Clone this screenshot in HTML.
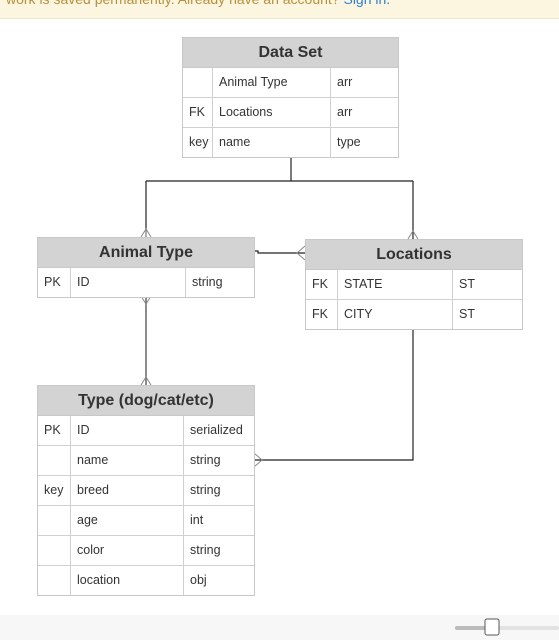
<!DOCTYPE html>
<html><head><style>
body{margin:0;width:559px;height:640px;overflow:hidden;background:#fff;font-family:"Liberation Sans",Arial,sans-serif;position:relative}
.banner{position:absolute;left:0;top:0;width:559px;height:18px;background:#fcf6e1;border-bottom:1px solid #f1e6c4;}
.banner span{position:absolute;left:6px;top:-9px;font-size:14px;color:#b8903c;white-space:nowrap}
.banner b{font-weight:normal;color:#2a7fd4}
.t{position:absolute;border:1px solid #c8c8c8;background:#fff;font-size:12.5px;color:#333}
.t .h{background:#d3d3d3;font-weight:bold;font-size:16px;text-align:center;height:29px;line-height:29px;color:#333;border-bottom:1px solid #c8c8c8}
.t .r{display:flex;height:29px;line-height:28px;border-bottom:1px solid #d0d0d0}
.t .r:last-child{border-bottom:none}
.t .r div{padding-left:6px;box-sizing:border-box;border-right:1px solid #d0d0d0}
.t .r div:last-child{border-right:none}
</style></head><body>
<div class="banner"><span>work is saved permanently. Already have an account? <b>Sign in.</b></span></div>
<svg width="559" height="640" style="position:absolute;left:0;top:0">
<g stroke="#222" stroke-width="1.2" fill="none">
<path d="M291 157V181M146 181H413M146 181V237M413 181V239"/>
<path d="M254 251H258V253H305"/>
<path d="M413 329V460H254"/>
</g>
<path d="M146 296V385" stroke="#666" stroke-width="1.5"/>
<g stroke="#888" stroke-width="1" fill="none">
<path d="M141 237L146 229L151 237M146 229V237"/>
<path d="M408 239L413 231L418 239"/>
<path d="M305 246L297 253L305 260"/>
<path d="M141 296L146 304L151 296"/>
<path d="M141 385L146 377L151 385"/>
<path d="M254 453L262 460L254 467"/>
</g>
<rect x="0" y="615" width="559" height="25" fill="#f7f7f7"/>
<rect x="455" y="626" width="104" height="4" rx="2" fill="#e2e2e2"/>
<rect x="455" y="626" width="35" height="4" rx="2" fill="#bbb"/>
<rect x="485" y="619" width="14" height="16" rx="2" fill="#fff" stroke="#555"/>
</svg>
<div class="t" style="left:182px;top:37px;width:215px">
<div class="h">Data Set</div>
<div class="r"><div style="width:30px"></div><div style="width:118px">Animal Type</div><div>arr</div></div>
<div class="r"><div style="width:30px">FK</div><div style="width:118px">Locations</div><div>arr</div></div>
<div class="r"><div style="width:30px">key</div><div style="width:118px">name</div><div>type</div></div>
</div>
<div class="t" style="left:37px;top:237px;width:216px">
<div class="h">Animal Type</div>
<div class="r"><div style="width:33px">PK</div><div style="width:115px">ID</div><div>string</div></div>
</div>
<div class="t" style="left:305px;top:239px;width:216px">
<div class="h">Locations</div>
<div class="r"><div style="width:32px">FK</div><div style="width:115px">STATE</div><div>ST</div></div>
<div class="r"><div style="width:32px">FK</div><div style="width:115px">CITY</div><div>ST</div></div>
</div>
<div class="t" style="left:37px;top:385px;width:216px">
<div class="h">Type (dog/cat/etc)</div>
<div class="r"><div style="width:33px">PK</div><div style="width:113px">ID</div><div>serialized</div></div>
<div class="r"><div style="width:33px"></div><div style="width:113px">name</div><div>string</div></div>
<div class="r"><div style="width:33px">key</div><div style="width:113px">breed</div><div>string</div></div>
<div class="r"><div style="width:33px"></div><div style="width:113px">age</div><div>int</div></div>
<div class="r"><div style="width:33px"></div><div style="width:113px">color</div><div>string</div></div>
<div class="r"><div style="width:33px"></div><div style="width:113px">location</div><div>obj</div></div>
</div>
</body></html>
